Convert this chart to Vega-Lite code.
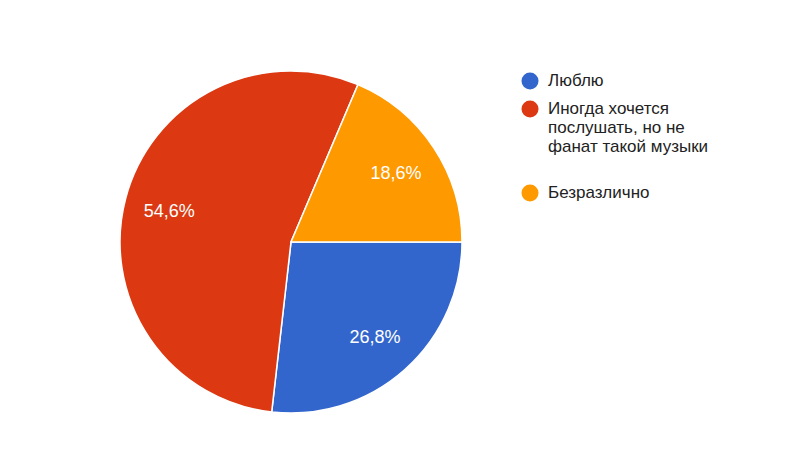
{
  "$schema": "https://vega.github.io/schema/vega-lite/v6.json",
  "width": 400,
  "height": 340,
  "padding": {"left": 91, "top": 68, "right": 0, "bottom": 0},
  "background": "#ffffff",
  "config": {"view": {"stroke": null}, "font": "Liberation Sans"},
  "data": {
    "values": [
      {"answer": "Люблю", "pct": 26.8, "label": "26,8%", "ord": 1},
      {"answer": "Иногда хочется послушать, но не фанат такой музыки", "pct": 54.6, "label": "54,6%", "ord": 2},
      {"answer": "Безразлично", "pct": 18.6, "label": "18,6%", "ord": 3}
    ]
  },
  "encoding": {
    "theta": {"field": "pct", "type": "quantitative", "stack": true, "scale": {"range": [1.5707963, 7.8539816]}},
    "order": {"field": "ord", "type": "quantitative"},
    "color": {
      "field": "answer",
      "type": "nominal",
      "sort": ["Люблю", "Иногда хочется послушать, но не фанат такой музыки", "Безразлично"],
      "scale": {"domain": ["Люблю", "Иногда хочется послушать, но не фанат такой музыки", "Безразлично"], "range": ["#3366cc", "#dc3912", "#ff9900"]},
      "legend": {
        "title": null,
        "orient": "none",
        "legendX": 430,
        "legendY": 0,
        "padding": 0,
        "symbolType": "circle",
        "symbolSize": 290,
        "symbolStrokeWidth": 0,
        "labelFontSize": 17,
        "labelColor": "#222222",
        "labelOffset": 9,
        "labelLimit": 300,
        "rowPadding": 10,
        "labelExpr": "datum.label == 'Иногда хочется послушать, но не фанат такой музыки' ? ['Иногда хочется', 'послушать, но не', 'фанат такой музыки', ' '] : datum.label"
      }
    }
  },
  "layer": [
    {"mark": {"type": "arc", "outerRadius": 171, "stroke": "#ffffff", "strokeWidth": 1.5}},
    {
      "mark": {"type": "text", "radius": 126, "fontSize": 18, "dy": 2},
      "encoding": {"text": {"field": "label"}, "color": {"value": "#ffffff"}}
    }
  ]
}
